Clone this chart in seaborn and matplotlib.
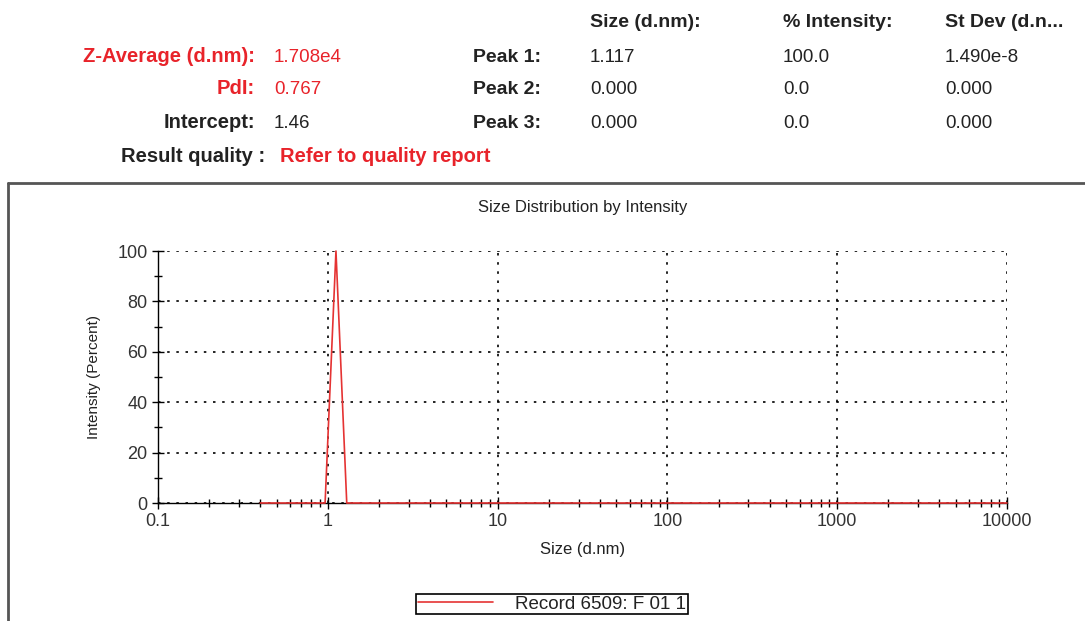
import matplotlib
matplotlib.use("Agg")
import matplotlib.pyplot as plt
import matplotlib.ticker as mticker
from matplotlib.lines import Line2D
import pandas as pd
import seaborn as sns

# size bins (d.nm) and intensity (%)
sizes = [0.4, 0.964, 1.117, 1.293, 10000]
intensity = [0, 0, 100, 0, 0]
record_label = "Record 6509: F 01 1"

x_ticks = [0.1, 1, 10, 100, 1000, 10000]
x_tick_labels = ["0.1", "1", "10", "100", "1000", "10000"]
y_ticks = [0, 20, 40, 60, 80, 100]

summary_labels = ["Z-Average (d.nm):", "PdI:", "Intercept:"]
summary_values = ["1.708e4", "0.767", "1.46"]
summary_red = [True, True, False]
quality_label = "Result quality :"
quality_text = "Refer to quality report"

peak_names = ["Peak 1:", "Peak 2:", "Peak 3:"]
peak_columns = ["Size (d.nm):", "% Intensity:", "St Dev (d.n..."]
peak_size = ["1.117", "0.000", "0.000"]
peak_intensity = ["100.0", "0.0", "0.0"]
peak_stdev = ["1.490e-8", "0.000", "0.000"]

sns.set_style("white")
plt.rcParams["font.family"] = ["Liberation Sans", "DejaVu Sans"]

RED = "#e8232a"
INK = "#222222"
W, H = 1085, 621


def fx(px):
    return px / W


def fy(py):
    return 1 - py / H


fig = plt.figure(figsize=(10.85, 6.21), dpi=100)

# --- header block (baselines in pixels) ---
row_y = [62, 94, 128]
VA = "baseline"
for i, lab in enumerate(summary_labels):
    c = RED if summary_red[i] else INK
    fig.text(fx(255), fy(row_y[i]), lab, ha="right", va=VA,
             fontsize=14.5, fontweight="bold", color=c)
    fig.text(fx(274), fy(row_y[i]), summary_values[i], ha="left", va=VA,
             fontsize=13.5, color=c)
fig.text(fx(265), fy(162), quality_label, ha="right", va=VA,
         fontsize=14.5, fontweight="bold", color=INK)
fig.text(fx(280), fy(162), quality_text, ha="left", va=VA,
         fontsize=14.5, fontweight="bold", color=RED)

col_x = [590, 783, 945]
for x, lab in zip(col_x, peak_columns):
    fig.text(fx(x), fy(27), lab, ha="left", va=VA,
             fontsize=14, fontweight="bold", color=INK)
for i, name in enumerate(peak_names):
    fig.text(fx(541), fy(row_y[i]), name, ha="right", va=VA,
             fontsize=14, fontweight="bold", color=INK)
    for x, val in zip(col_x, [peak_size[i], peak_intensity[i], peak_stdev[i]]):
        fig.text(fx(x), fy(row_y[i]), val, ha="left", va=VA,
                 fontsize=13.5, color=INK)

# --- outer frame of the chart panel ---
fig.add_artist(Line2D([fx(8), 1.0], [fy(183), fy(183)], transform=fig.transFigure,
                      color="#555555", lw=2))
fig.add_artist(Line2D([fx(8), fx(8)], [0.0, fy(183)], transform=fig.transFigure,
                      color="#555555", lw=2))

# --- the plot ---
ax = fig.add_axes([fx(158), fy(503), fx(1007 - 158), (503 - 251) / H])
df = pd.DataFrame({"size": sizes, "intensity": intensity})
sns.lineplot(data=df, x="size", y="intensity", ax=ax, color="#e53333",
             lw=1.2, label=record_label, zorder=3, clip_on=False)

ax.set_xscale("log")
ax.set_xlim(0.1, 10000)
ax.set_ylim(0, 100)
ax.set_xticks(x_ticks)
ax.set_xticklabels(x_tick_labels)
ax.set_yticks(y_ticks)
ax.xaxis.set_minor_locator(mticker.LogLocator(base=10, subs=range(2, 10), numticks=20))
ax.xaxis.set_minor_formatter(mticker.NullFormatter())
ax.yaxis.set_minor_locator(mticker.MultipleLocator(10))

for side in ["top", "right"]:
    ax.spines[side].set_visible(False)
for side in ["left", "bottom"]:
    ax.spines[side].set_color("black")
    ax.spines[side].set_linewidth(1)

ax.grid(True, which="major", color="black", linestyle=(0, (1.5, 4)), lw=1.2)
ax.tick_params(which="both", bottom=True, left=True, top=False, right=False)
ax.tick_params(which="major", direction="inout", length=9, width=1,
               color="black", labelsize=13, labelcolor="#333333", pad=3)
ax.tick_params(which="minor", direction="inout", length=6, width=1, color="black")

ax.set_title("Size Distribution by Intensity", fontsize=12, color=INK, pad=28)
ax.set_xlabel("Size (d.nm)", fontsize=12, color=INK, labelpad=8)
ax.set_ylabel("Intensity (Percent)", fontsize=11, color=INK, labelpad=12)

handles, labels = ax.get_legend_handles_labels()
ax.get_legend().remove()
leg = fig.legend(handles, labels, loc="center", bbox_to_anchor=(fx(552), fy(604)),
                 frameon=True, fancybox=False, edgecolor="black", framealpha=1,
                 handlelength=4.0, fontsize=13.5, borderpad=0.1, handletextpad=1.2)
leg.get_frame().set_linewidth(1.2)
for t in leg.get_texts():
    t.set_color(INK)

fig.savefig("out.png", dpi=100)
